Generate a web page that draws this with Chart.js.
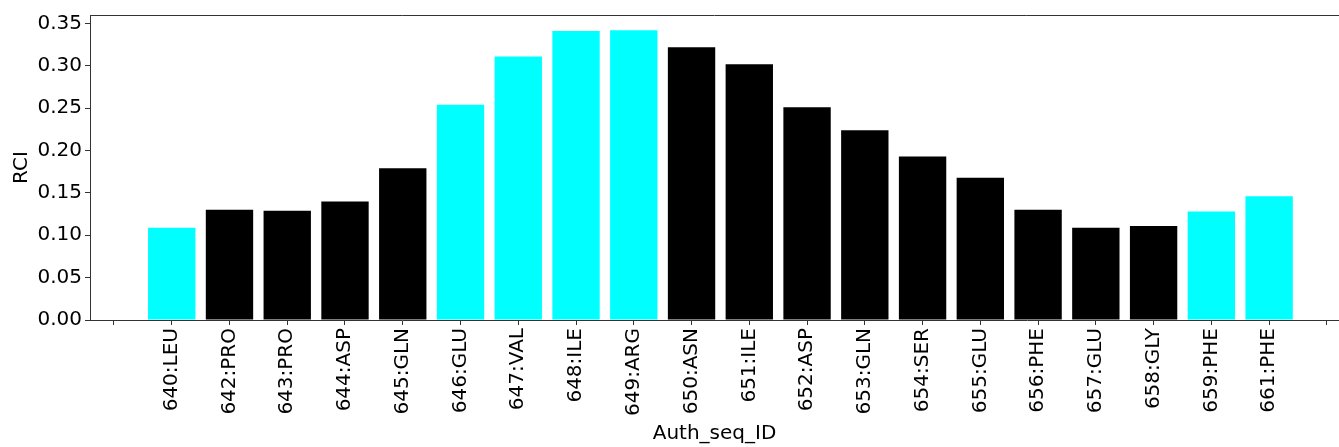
<!DOCTYPE html>
<html>
<head>
    <meta charset="UTF-8">
    <title>RCI per residue</title>
    <script src="https://cdn.jsdelivr.net/npm/chart.js"></script>
    <style>
        body {
            margin: 0;
            padding: 0;
            background-color: #FFFFFF;
        }

        .chart-container {
            width: 1339px;
            height: 447px;
        }
    </style>
</head>
<body>
<div class="chart-container">
    <canvas id="rci-chart"></canvas>
</div>

<script>
    // residues along the x axis
    const residues = ['640:LEU', '642:PRO', '643:PRO', '644:ASP', '645:GLN', '646:GLU', '647:VAL',
        '648:ILE', '649:ARG', '650:ASN', '651:ILE', '652:ASP', '653:GLN', '654:SER', '655:GLU',
        '656:PHE', '657:GLU', '658:GLY', '659:PHE', '661:PHE'];

    // RCI values
    const rciValues = [0.109, 0.130, 0.129, 0.140, 0.179, 0.254, 0.311, 0.341, 0.342, 0.322,
        0.302, 0.251, 0.224, 0.193, 0.168, 0.130, 0.109, 0.111, 0.128, 0.146];

    // residues drawn in cyan
    const cyanResidues = ['640:LEU', '646:GLU', '647:VAL', '648:ILE', '649:ARG', '659:PHE', '661:PHE'];

    const yTicks = [0, 0.05, 0.10, 0.15, 0.20, 0.25, 0.30, 0.35];

    const font = { family: 'DejaVu Sans', size: 20 };
    const axisColor = '#333333';

    // matplotlib style top spine
    const topSpine = {
        id: 'topSpine',
        afterDraw(chart) {
            const { ctx, chartArea } = chart;
            ctx.save();
            ctx.strokeStyle = axisColor;
            ctx.lineWidth = 1;
            ctx.beginPath();
            ctx.moveTo(chartArea.left, chartArea.top + 0.5);
            ctx.lineTo(chartArea.right, chartArea.top + 0.5);
            ctx.stroke();
            ctx.restore();
        }
    };

    const ctx = document.getElementById('rci-chart').getContext('2d');
    new Chart(ctx, {
        type: 'bar',
        data: {
            datasets: [{
                data: rciValues.map((v, i) => ({ x: i + 1, y: v })),
                backgroundColor: residues.map(r => cyanResidues.includes(r) ? '#00FFFF' : '#000000'),
                borderWidth: 0,
                barPercentage: 0.82,
                categoryPercentage: 1.0
            }]
        },
        options: {
            responsive: true,
            maintainAspectRatio: false,
            animation: false,
            layout: { padding: { top: 14, right: 0, left: 0, bottom: 0 } },
            plugins: {
                legend: { display: false },
                tooltip: { enabled: false }
            },
            scales: {
                x: {
                    type: 'linear',
                    offset: false,
                    min: -0.415,
                    max: 21.21,
                    afterFit(scale) {
                        scale.height = 127;
                        scale.paddingLeft = 0;
                        scale.paddingRight = 0;
                    },
                    afterBuildTicks(scale) {
                        scale.ticks = Array.from({ length: residues.length + 2 }, (_, i) => ({ value: i }));
                    },
                    ticks: {
                        autoSkip: false,
                        minRotation: 90,
                        maxRotation: 90,
                        padding: 3,
                        color: '#000000',
                        font: font,
                        callback: (value) => residues[value - 1] || ''
                    },
                    grid: {
                        offset: false,
                        drawOnChartArea: false,
                        drawTicks: true,
                        tickLength: 5,
                        tickColor: axisColor
                    },
                    border: { display: true, color: axisColor, width: 1 },
                    title: {
                        display: true,
                        text: 'Auth_seq_ID',
                        color: '#000000',
                        font: font,
                        padding: { top: 0, bottom: 1 }
                    }
                },
                y: {
                    min: 0,
                    max: 0.36,
                    afterFit(scale) { scale.width = 90; },
                    afterBuildTicks(scale) {
                        scale.ticks = yTicks.map(v => ({ value: v }));
                    },
                    ticks: {
                        padding: 3,
                        color: '#000000',
                        font: font,
                        callback: (value) => value.toFixed(2)
                    },
                    grid: {
                        drawOnChartArea: false,
                        drawTicks: true,
                        tickLength: 5,
                        tickColor: axisColor
                    },
                    border: { display: true, color: axisColor, width: 1 },
                    title: {
                        display: true,
                        text: 'RCI',
                        color: '#000000',
                        font: font,
                        padding: { top: 10, bottom: 0 }
                    }
                }
            }
        },
        plugins: [topSpine]
    });
</script>
</body>
</html>
